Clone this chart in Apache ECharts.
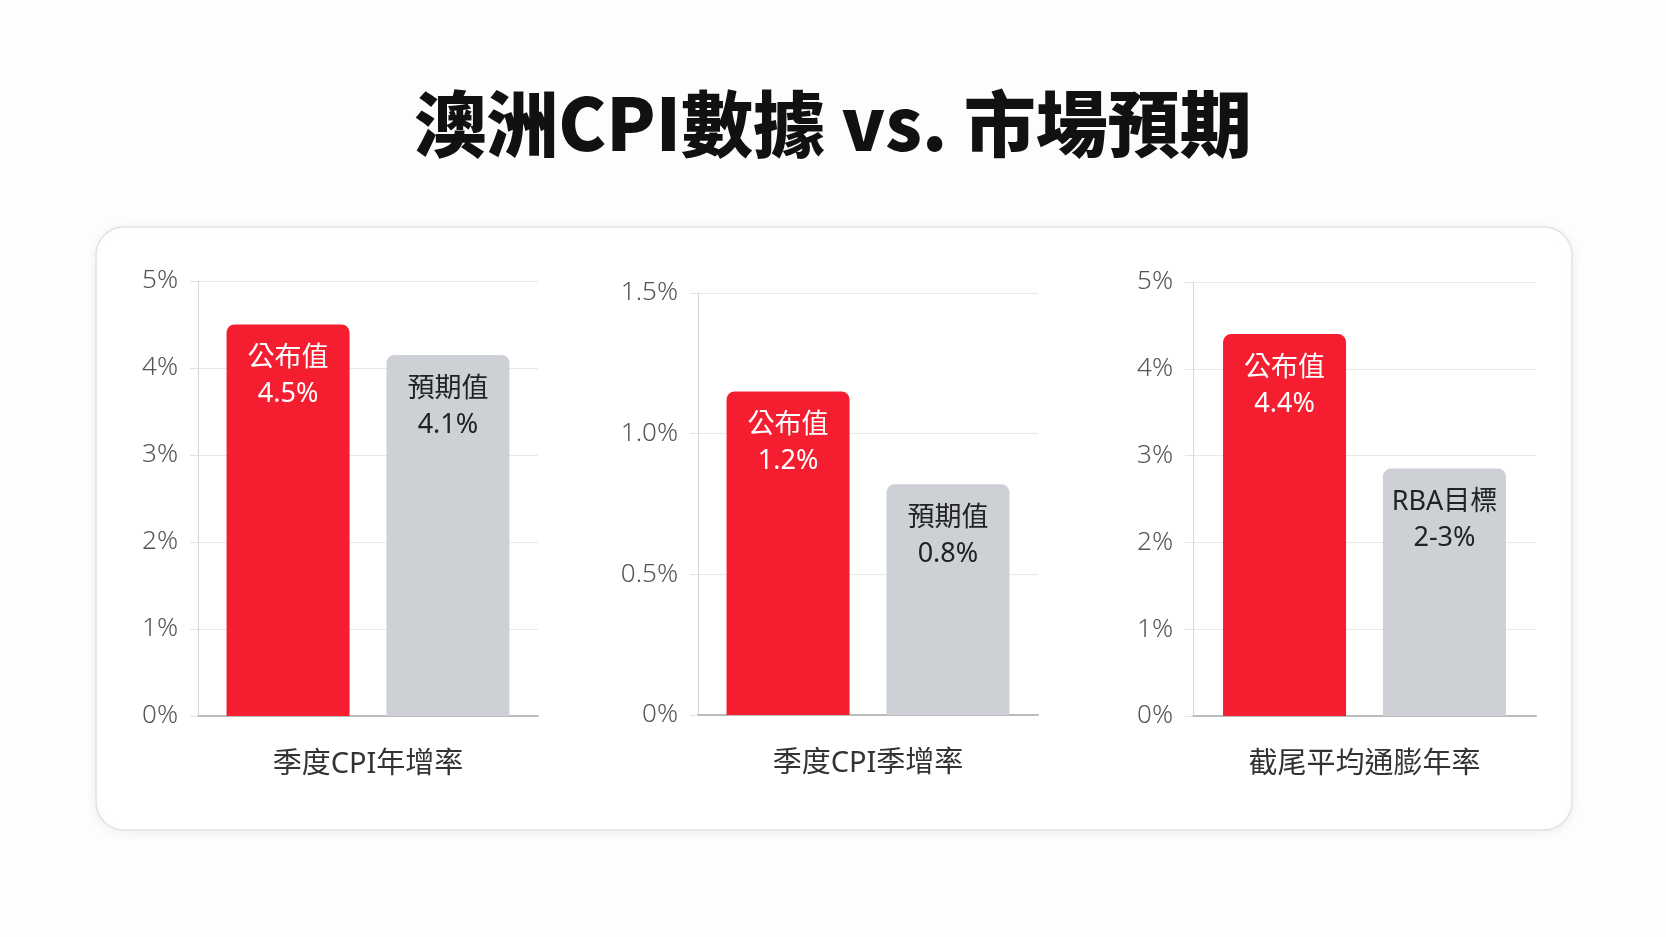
<!DOCTYPE html>
<html>
<head>
<meta charset="utf-8">
<title>澳洲CPI數據 vs. 市場預期</title>
<script src="https://cdn.jsdelivr.net/npm/echarts@6/dist/echarts.min.js"></script>
<style>
	html, body { margin: 0; padding: 0; background: #fdfdfd; }
	#chart { width: 1666px; height: 937px; }
</style>
</head>
<body>
<div id="chart"></div>
<script>
// panel titles (shown under each small chart)
const panelNames = ["季度CPI年增率", "季度CPI季增率", "截尾平均通膨年率"];
// bar heights as drawn
const actualValues = [4.5, 1.15, 4.4];
const compareValues = [4.15, 0.82, 2.85];
// text inside the bars
const actualLabels = ["公布值\n4.5%", "公布值\n1.2%", "公布值\n4.4%"];
const compareLabels = ["預期值\n4.1%", "預期值\n0.8%", "RBA目標\n2-3%"];
// y axis ranges and tick labels
const yMax = [5, 1.5, 5];
const yStep = [1, 0.5, 1];
const tickLabels = [
	["0%", "1%", "2%", "3%", "4%", "5%"],
	["0%", "0.5%", "1.0%", "1.5%"],
	["0%", "1%", "2%", "3%", "4%", "5%"]
];

const RED = "#f41e30";
const GREY = "#cdd1d5";
const FONT = "'Noto Sans', 'Noto Sans CJK TC', sans-serif";

const grids = [
	{ left: 198, width: 340, top: 281, height: 435 },
	{ left: 698, width: 340, top: 293, height: 422 },
	{ left: 1193, width: 343, top: 282, height: 434 }
];

const xAxes = [];
const yAxes = [];
const series = [];

panelNames.forEach(function (name, i) {
	xAxes.push({
		type: "category",
		gridIndex: i,
		data: [name],
		name: name,
		nameLocation: "middle",
		nameGap: 34,
		nameTextStyle: { fontSize: 29, color: "#333", fontFamily: FONT },
		axisLine: { show: true, lineStyle: { color: "#bcbcbc", width: 2 } },
		axisTick: { show: false },
		axisLabel: { show: false }
	});
	yAxes.push({
		type: "value",
		gridIndex: i,
		min: 0,
		max: yMax[i],
		interval: yStep[i],
		axisLine: { show: true, lineStyle: { color: "#d6d6d6", width: 1 } },
		axisTick: { show: true, length: 8, lineStyle: { color: "#e2e2e2" } },
		splitLine: { show: true, lineStyle: { color: "#e9e9e9", width: 1 } },
		axisLabel: {
			fontSize: 26,
			color: "#555",
			fontFamily: FONT,
			fontWeight: 300,
			margin: 20,
			formatter: function (v) {
				return tickLabels[i][Math.round(v / yStep[i])];
			}
		}
	});
	series.push({
		type: "bar",
		name: "公布值",
		xAxisIndex: i,
		yAxisIndex: i,
		barWidth: 123,
		barGap: "30%",
		itemStyle: { color: RED, borderRadius: [8, 8, 0, 0] },
		label: {
			show: true,
			position: "insideTop",
			distance: 16,
			color: "#fff",
			fontSize: 27,
			lineHeight: 36,
			fontFamily: FONT,
			formatter: function () { return actualLabels[i]; }
		},
		data: [actualValues[i]]
	});
	series.push({
		type: "bar",
		name: "比較",
		xAxisIndex: i,
		yAxisIndex: i,
		barWidth: 123,
		barGap: "30%",
		itemStyle: { color: GREY, borderRadius: [8, 8, 0, 0] },
		label: {
			show: true,
			position: "insideTop",
			distance: 16,
			color: "#222",
			fontSize: 27,
			lineHeight: 36,
			fontFamily: FONT,
			formatter: function () { return compareLabels[i]; }
		},
		data: [compareValues[i]]
	});
});

const chart = echarts.init(document.getElementById("chart"));
chart.setOption({
	animation: false,
	backgroundColor: "#fdfdfd",
	title: {
		text: "澳洲CPI數據 vs. 市場預期",
		left: "center",
		top: 83,
		textStyle: {
			fontSize: 72,
			fontWeight: 900,
			color: "#111",
			fontFamily: "'Noto Sans CJK TC', 'Noto Sans', sans-serif"
		}
	},
	graphic: [
		{
			type: "rect",
			z: -10,
			shape: { x: 96, y: 227, width: 1476, height: 603, r: 28 },
			style: {
				fill: "#fff",
				stroke: "#e2e2e2",
				lineWidth: 1.5,
				shadowBlur: 12,
				shadowColor: "rgba(0,0,0,0.06)",
				shadowOffsetY: 2
			}
		}
	],
	grid: grids,
	xAxis: xAxes,
	yAxis: yAxes,
	series: series
});
window.addEventListener("resize", function () { chart.resize(); });
</script>
</body>
</html>
